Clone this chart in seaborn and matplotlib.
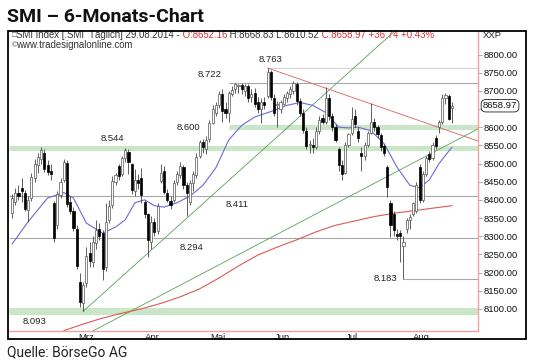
import numpy as np
import pandas as pd
import matplotlib.pyplot as plt
from matplotlib.patches import Rectangle
import seaborn as sns

# trading days 12.02.2014 - 29.08.2014 (SIX holidays removed)
HOLIDAYS = ["2014-04-18", "2014-04-21", "2014-05-01", "2014-05-29", "2014-06-09", "2014-08-01"]
MONTHS = ["Mrz", "Apr", "Mai", "Jun", "Jul", "Aug"]

opens = [8365, 8395, 8420, 8432, 8420, 8372, 8405, 8460, 8495, 8512, 8530, 8495, 8480, 8390, 8330, 8412,
         8455, 8502, 8395, 8370, 8320, 8175, 8115, 8170, 8255, 8228, 8280, 8320, 8310, 8215, 8345, 8385,
         8450, 8492, 8470, 8515, 8532, 8498, 8425, 8455, 8460, 8395, 8362, 8285, 8340, 8315, 8452, 8480,
         8418, 8398, 8400, 8448, 8468, 8490, 8440, 8395, 8445, 8468, 8520, 8560, 8540, 8568, 8612, 8640,
         8660, 8690, 8650, 8640, 8690, 8705, 8712, 8716, 8700, 8712, 8682, 8695, 8668, 8650, 8670, 8685,
         8752, 8680, 8660, 8650, 8665, 8680, 8690, 8700, 8720, 8672, 8640, 8590, 8550, 8552, 8545, 8590,
         8625, 8615, 8680, 8632, 8600, 8540, 8495, 8475, 8550, 8585, 8630, 8590, 8530, 8520, 8550, 8585,
         8615, 8600, 8578, 8548, 8490, 8392, 8362, 8305, 8310, 8272, 8320, 8345, 8360, 8370, 8490, 8400,
         8470, 8525, 8515, 8570, 8600, 8615, 8680, 8685, 8652.16]
highs = [8415, 8432, 8440, 8460, 8428, 8410, 8475, 8512, 8530, 8545, 8540, 8510, 8498, 8398, 8425, 8460,
         8512, 8510, 8410, 8380, 8330, 8200, 8175, 8270, 8285, 8300, 8345, 8335, 8318, 8390, 8400, 8465,
         8475, 8500, 8522, 8544, 8540, 8502, 8485, 8470, 8487, 8400, 8365, 8355, 8350, 8390, 8500, 8492,
         8430, 8410, 8455, 8480, 8505, 8495, 8450, 8455, 8480, 8530, 8565, 8568, 8575, 8620, 8660, 8668,
         8700, 8705, 8670, 8700, 8712, 8722, 8720, 8722, 8718, 8718, 8705, 8708, 8682, 8680, 8682, 8763,
         8758, 8690, 8672, 8675, 8690, 8700, 8712, 8728, 8725, 8680, 8650, 8600, 8565, 8570, 8600, 8630,
         8635, 8710, 8690, 8640, 8610, 8545, 8510, 8560, 8585, 8655, 8650, 8600, 8545, 8560, 8590, 8667,
         8625, 8605, 8585, 8555, 8495, 8400, 8370, 8320, 8318, 8300, 8350, 8360, 8395, 8450, 8500, 8480,
         8520, 8535, 8560, 8578, 8620, 8690, 8694, 8690, 8668.83]
lows = [8350, 8385, 8400, 8395, 8368, 8340, 8398, 8450, 8475, 8500, 8478, 8468, 8455, 8285, 8320, 8405,
        8450, 8380, 8360, 8315, 8210, 8105, 8093, 8160, 8215, 8215, 8265, 8290, 8180, 8205, 8335, 8378,
        8440, 8455, 8465, 8505, 8470, 8415, 8410, 8430, 8390, 8350, 8243, 8265, 8300, 8305, 8445, 8415,
        8395, 8375, 8395, 8440, 8460, 8430, 8355, 8385, 8425, 8460, 8515, 8530, 8525, 8560, 8608, 8630,
        8652, 8615, 8625, 8614, 8685, 8695, 8695, 8690, 8685, 8668, 8670, 8655, 8640, 8612, 8650, 8680,
        8675, 8630, 8600, 8640, 8660, 8670, 8680, 8690, 8660, 8630, 8585, 8540, 8530, 8530, 8540, 8580,
        8610, 8610, 8620, 8590, 8560, 8480, 8455, 8470, 8545, 8578, 8600, 8560, 8480, 8510, 8545, 8580,
        8590, 8570, 8535, 8520, 8408, 8298, 8300, 8290, 8229, 8183, 8310, 8320, 8355, 8365, 8390, 8395,
        8465, 8505, 8510, 8540, 8585, 8610, 8665, 8620, 8610.52]
closes = [8404, 8418, 8410, 8425, 8375, 8400, 8462, 8500, 8518, 8538, 8485, 8478, 8472, 8295, 8415, 8450,
          8505, 8388, 8368, 8322, 8218, 8118, 8165, 8245, 8232, 8285, 8318, 8300, 8210, 8340, 8382, 8452,
          8468, 8465, 8515, 8537, 8505, 8428, 8455, 8445, 8413, 8360, 8290, 8340, 8312, 8382, 8474, 8422,
          8400, 8385, 8445, 8470, 8492, 8440, 8420, 8447, 8470, 8518, 8558, 8545, 8565, 8612, 8650, 8660,
          8690, 8645, 8638, 8695, 8702, 8718, 8716, 8705, 8712, 8680, 8692, 8665, 8650, 8668, 8660, 8752,
          8683, 8640, 8665, 8668, 8682, 8695, 8705, 8722, 8672, 8640, 8592, 8548, 8555, 8545, 8590, 8620,
          8615, 8680, 8630, 8600, 8565, 8495, 8470, 8550, 8580, 8622, 8610, 8570, 8522, 8550, 8585, 8615,
          8600, 8580, 8545, 8530, 8435, 8330, 8318, 8300, 8300, 8285, 8345, 8352, 8390, 8440, 8400, 8470,
          8515, 8512, 8552, 8548, 8615, 8680, 8688, 8622.23, 8658.97]

# moving averages (day index, value)
ma_short_idx = [0, 5, 11, 16, 19, 23, 28, 32, 35, 38, 41, 44, 47, 51, 55, 59, 63, 67, 71, 75, 80, 85,
                89, 93, 97, 101, 104, 107, 111, 115, 119, 123, 126, 129, 132, 136]
ma_short_val = [8278, 8340, 8405, 8420, 8405, 8336, 8308, 8325, 8345, 8392, 8400, 8384, 8380, 8392, 8410,
                8440, 8488, 8565, 8605, 8628, 8643, 8660, 8668, 8660, 8640, 8600, 8598, 8600, 8590, 8555,
                8490, 8440, 8433, 8455, 8500, 8545]
ma_long_idx = [16, 22, 27, 33, 40, 46, 52, 58, 64, 70, 76, 82, 88, 94, 100, 106, 112, 118, 124, 130, 136]
ma_long_val = [8040, 8058, 8072, 8086, 8100, 8115, 8133, 8155, 8185, 8218, 8248, 8270, 8290, 8312, 8330,
               8342, 8354, 8363, 8370, 8377, 8384]

# support / resistance levels: value, first day index, kind
level_val = [8763, 8722, 8600, 8544, 8411, 8294, 8183, 8093]
level_from = [79, 67, 67, None, None, None, 121, None]
level_kind = ["light", "line", "band", "band", "line", "line", "line", "band"]
level_text = ["8.763", "8.722", "8.600", "8.544", "8.411", "8.294", "8.183", "8.093"]

# trend lines: (day index, price) pairs
up_fast = [(22, 8093), (118, 8862)]
up_slow = [(25, 8039), (144, 8595)]
down_line = [(79, 8763), (144, 8562)]

dates = pd.bdate_range("2014-02-12", "2014-08-29")
dates = dates[~dates.isin(pd.to_datetime(HOLIDAYS))]
n = len(dates)
x = np.arange(n)
df = pd.DataFrame({"date": dates, "o": opens, "h": highs, "l": lows, "c": closes})

sns.set_theme(style="white")
plt.rcParams["font.family"] = ["Liberation Sans", "DejaVu Sans"]

fig = plt.figure(figsize=(5.4, 3.64), dpi=100)
W, H = 540, 364
ax = fig.add_axes([9 / W, 1 - 331 / H, (478 - 9) / W, (331 - 32) / H])
ax.set_xlim(-0.93, 144.05)
ax.set_ylim(8039, 8862)

# levels
for v, start, kind in zip(level_val, level_from, level_kind):
    x0 = -1 if start is None else start
    if kind == "band":
        lw = 5.0 if v == 8093 else 3.6
        ax.hlines(v, x0, 145, color="#c9e6c6", lw=lw, zorder=1)
    elif kind == "light":
        ax.hlines(v, x0, 145, color="#d4d4d4", lw=0.8, zorder=1)
    else:
        ax.hlines(v, x0, 145, color="#a8a8a8", lw=0.8, zorder=1)

lab_pos = {"8.763": (79.8, 3, "center", "bottom"), "8.722": (61, 3, "center", "bottom"),
           "8.600": (58.2, 0, "right", "center"), "8.544": (31, 3, "center", "bottom"),
           "8.411": (69.5, -3, "center", "top"), "8.294": (55.5, -3, "center", "top"),
           "8.183": (119, 0, "right", "center"), "8.093": (7, -4, "center", "top")}
for v, t in zip(level_val, level_text):
    xi, dy, ha, va = lab_pos[t]
    ax.annotate(t, (xi, v), xytext=(0, dy), textcoords="offset points", ha=ha, va=va,
                fontsize=6.8, color="#222222", zorder=6)

# trend lines
for pts, col in [(up_fast, "#5aa05a"), (up_slow, "#5aa05a"), (down_line, "#e06060")]:
    ax.plot([p[0] for p in pts], [p[1] for p in pts], color=col, lw=0.6, zorder=2)

# moving averages
sns.lineplot(x=ma_short_idx, y=ma_short_val, ax=ax, color="#6a6ad8", lw=0.8, zorder=3)
sns.lineplot(x=ma_long_idx, y=ma_long_val, ax=ax, color="#e05858", lw=0.8, zorder=3)

# candles
up = df["c"] >= df["o"]
ax.vlines(x, df["l"], df["h"], color="#333333", lw=0.55, zorder=4)
body_lo = np.minimum(df["o"], df["c"])
body_h = np.maximum(np.abs(df["c"] - df["o"]), 1.5)
ax.bar(x[up], body_h[up], bottom=body_lo[up], width=0.66, color="white", edgecolor="#555555",
       linewidth=0.5, zorder=5)
ax.bar(x[~up], body_h[~up], bottom=body_lo[~up], width=0.66, color="black", edgecolor="black",
       linewidth=0.5, zorder=5)

# axes styling
for s in ["top", "left"]:
    ax.spines[s].set_visible(False)
for s in ["right", "bottom"]:
    ax.spines[s].set_color("#f0a0a0")
    ax.spines[s].set_linewidth(1.0)
ax.yaxis.tick_right()
yt = np.arange(8100, 8801, 50)
ax.set_yticks(yt)
# the 8650 label sits under the last-price box
ax.set_yticklabels(["" if v == 8650 else f"{v:.2f}" for v in yt])
ax.tick_params(axis="y", length=3, width=0.6, color="#e08080", labelsize=6.8, pad=1,
               labelcolor="#111111")

month_idx = pd.Series(x, index=dates).groupby(dates.month)
bounds = [month_idx.get_group(m).iloc[0] - 0.5 for m in range(3, 9)]
mids = [month_idx.get_group(m).mean() for m in range(3, 9)]
ax.set_xticks(bounds)
ax.set_xticklabels([])
ax.set_xticks(mids, minor=True)
ax.set_xticklabels(MONTHS, minor=True)
ax.tick_params(axis="x", which="major", length=3, width=0.6, color="#888888", direction="out")
ax.tick_params(axis="x", which="minor", length=0, labelsize=6.8, pad=1.5, labelcolor="#222222")
ax.set_xlabel("")
ax.set_ylabel("")

# header text inside the chart
ax.text(2.5 / 469, 1 - 3.5 / 299, "\u25a1", transform=ax.transAxes, fontsize=5.5, va="center",
        color="#555555")
ax.text(2.5 / 469, 1 - 13.5 / 299, "\u00a9", transform=ax.transAxes, fontsize=5.5, va="center",
        color="#555555")
t = ax.text(7 / 469, 1 - 3.5 / 299, "SMI Index [.SMI  Täglich] 29.08.2014 -", transform=ax.transAxes,
            fontsize=6.9, va="center", color="#333333")
for seg, col in [(" O:8652.16", "#e03030"), (" H:8668.83 L:8610.52", "#333333"),
                 (" C:8658.97 +36.74 +0.43%", "#e03030")]:
    t = ax.annotate(seg, xycoords=t, xy=(1, 0), va="bottom", fontsize=6.9, color=col)
ax.text(7 / 469, 1 - 13.5 / 299, "www.tradesignalonline.com", transform=ax.transAxes,
        fontsize=6.9, va="center", color="#333333")

ax.annotate(f"{closes[-1]:.2f}", xy=(1, closes[-1]), xycoords=("axes fraction", "data"),
            xytext=(3.5, 0), textcoords="offset points", va="center", ha="left", fontsize=6.8,
            color="#111111", annotation_clip=False, zorder=10,
            bbox=dict(boxstyle="round,pad=0.18,rounding_size=0.5", fc="white", ec="#222222", lw=0.6))

fig.text(483 / W, 1 - 35.5 / H, "XXP", fontsize=6.8, va="center", color="#222222")

# outer frame, with the month labels cut by its lower edge
fig.patches.append(Rectangle((0, 0), 1, (364 - 340) / H, transform=fig.transFigure,
                             fc="white", ec="none", zorder=9))
fig.patches.append(Rectangle((8 / W, 1 - 339 / H), (526 - 8) / W, (339 - 31) / H,
                             transform=fig.transFigure, fill=False, ec="black", lw=1.3, zorder=10))

fig.text(7 / W, 1 - 16.5 / H, "SMI \u2013 6-Monats-Chart", fontsize=14, fontweight="bold",
         va="center", family=["Roboto", "DejaVu Sans"], color="#111111", zorder=11)
fig.text(7 / W, 1 - 352.5 / H, "Quelle: BörseGo AG", fontsize=10, va="center",
         family=["Roboto", "DejaVu Sans"], color="#222222", zorder=11)

fig.savefig("out.png", dpi=100)
